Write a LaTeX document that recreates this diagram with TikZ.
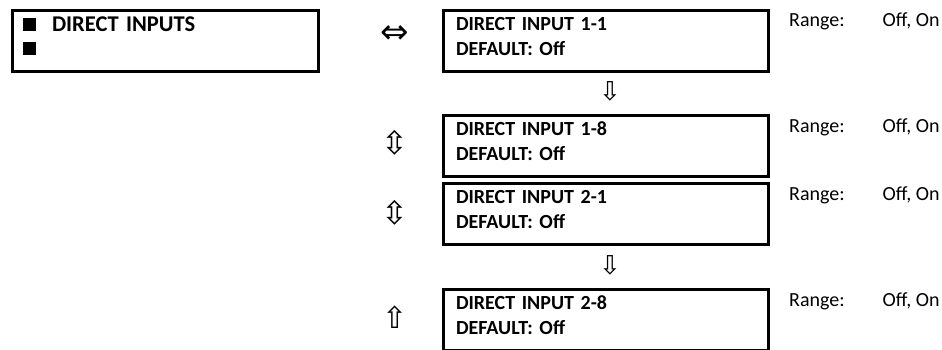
\documentclass[tikz,border=0pt]{standalone}
\usepackage{fontspec}
\setmainfont{Carlito}
\newfontfamily\symfont{DejaVu Sans}
\begin{document}
\begin{tikzpicture}[x=1pt,y=-1pt,
  menubox/.style={draw,line width=3pt,anchor=north west,minimum width=325pt,minimum height=61pt,
    text width=300pt,align=left,inner xsep=12pt,font=\fontsize{20}{25}\selectfont\bfseries},
  topbox/.style={draw,line width=3pt,anchor=north west,minimum width=305pt,minimum height=61pt,
    text width=285pt,align=left,inner xsep=10.5pt,font=\fontsize{22.5}{24}\selectfont\bfseries},
  rangetxt/.style={anchor=base west,inner sep=0pt,font=\fontsize{20}{25}\selectfont},
  arr/.style={inner sep=0pt,font=\symfont\fontsize{26}{26}\selectfont}]
\useasboundingbox (0,0) rectangle (942,350);
\node[topbox] (top) at (11,9) {\rule{13pt}{13pt}\hspace{16pt}DIRECT INPUTS\\\rule{13pt}{13pt}\\[-14pt]\mbox{}};
\node[menubox] (b1) at (442,9) {DIRECT INPUT 1-1\\DEFAULT: Off\\[-15pt]\mbox{}};
\node[menubox] (b2) at (442,114) {DIRECT INPUT 1-8\\DEFAULT: Off\\[-15pt]\mbox{}};
\node[menubox] (b3) at (442,182) {DIRECT INPUT 2-1\\DEFAULT: Off\\[-15pt]\mbox{}};
\node[menubox] (b4) at (442,288) {DIRECT INPUT 2-8\\DEFAULT: Off\\[-15pt]\mbox{}};
\foreach \b in {b1,b2,b3,b4}{
  \node[rangetxt] (r\b) at ([xshift=19pt,yshift=-18pt]\b.north east) {Range:\hspace{38pt}Off, On};
}
\node[arr,font=\symfont\fontsize{34}{34}\selectfont] (a1) at (395,35) {⇔};
\node[arr] (a2) at (610,91) {⇩};
\node[arr,font=\symfont\fontsize{32}{32}\selectfont] (a3) at (395,143) {⇳};
\node[arr,font=\symfont\fontsize{32}{32}\selectfont] (a4) at (395,213) {⇳};
\node[arr] (a5) at (610,265) {⇩};
\node[arr,font=\symfont\fontsize{30}{30}\selectfont] (a6) at (395,317) {⇧};
\end{tikzpicture}
\end{document}
